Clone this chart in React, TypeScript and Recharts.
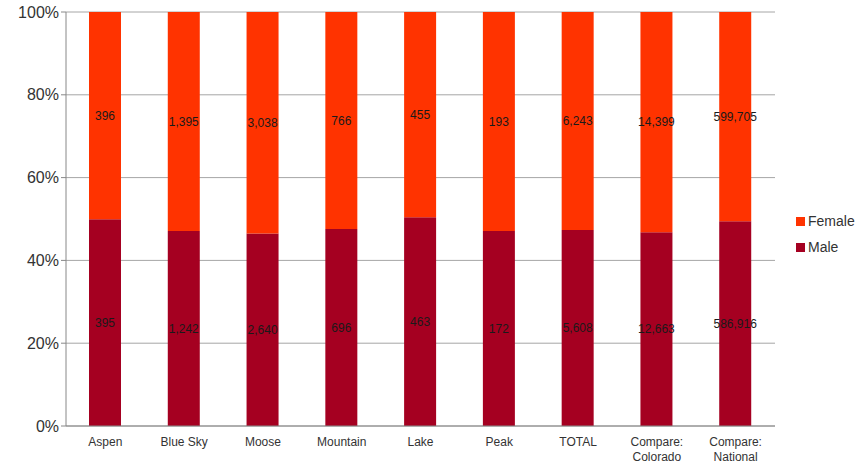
import React from "react";
import {
  BarChart,
  Bar,
  XAxis,
  YAxis,
  CartesianGrid,
  LabelList,
} from "recharts";

const categories = [
  "Aspen",
  "Blue Sky",
  "Moose",
  "Mountain",
  "Lake",
  "Peak",
  "TOTAL",
  "Compare: Colorado",
  "Compare: National",
];
const maleCounts = [395, 1242, 2640, 696, 463, 172, 5608, 12663, 586916];
const femaleCounts = [396, 1395, 3038, 766, 455, 193, 6243, 14399, 599705];
const yTicks = [0, 0.2, 0.4, 0.6, 0.8, 1];
const boundTicks = categories.map((_, i) => i).concat(categories.length);

const data = categories.map((name, i) => ({
  name,
  male: maleCounts[i],
  female: femaleCounts[i],
}));

const FONT = "'Liberation Sans Narrow', 'Arial Narrow', 'Liberation Sans', Arial, sans-serif";
const MALE = "#A50021";
const FEMALE = "#FF3300";

const fmt = (v: any) => Number(v).toLocaleString("en-US");

const CategoryTick = (props: any) => {
  const { x, y, payload } = props;
  const parts = String(payload.value).split(/(?<=:) /);
  return (
    <text x={x} y={y} textAnchor="middle" fill="#333" fontSize={12} fontFamily={FONT}>
      {parts.map((p, i) => (
        <tspan key={i} x={x} dy={i === 0 ? 12 : 15}>
          {p}
        </tspan>
      ))}
    </text>
  );
};

const legendItems = [
  { label: "Female", color: FEMALE },
  { label: "Male", color: MALE },
];

export default function App() {
  return (
    <div style={{ position: "absolute", left: 0, top: 0, width: 855, height: 468, background: "#fff" }}>
      <BarChart
        width={855}
        height={468}
        data={data}
        stackOffset="expand"
        barSize={32}
        margin={{ top: 12, right: 80, left: 6, bottom: 6 }}
      >
        <CartesianGrid vertical={false} stroke="#a6a6a6" />
        <XAxis
          xAxisId="bounds"
          type="number"
          domain={[0, categories.length]}
          ticks={boundTicks}
          axisLine={false}
          tickLine={{ stroke: "#888" }}
          tickSize={5}
          tickFormatter={() => ""}
          height={0}
        />
        <XAxis
          dataKey="name"
          axisLine={{ stroke: "#888" }}
          tickLine={false}
          tick={<CategoryTick />}
          interval={0}
          height={36}
        />
        <YAxis
          ticks={yTicks}
          domain={[0, 1]}
          tickFormatter={(v: number) => `${Math.round(v * 100)}%`}
          axisLine={{ stroke: "#888" }}
          tickLine={{ stroke: "#888" }}
          tickSize={5}
          width={60}
          tick={{ fill: "#333", fontSize: 16, fontFamily: FONT }}
        />
        <Bar dataKey="male" name="Male" stackId="a" fill={MALE} isAnimationActive={false}>
          <LabelList
            dataKey="male"
            position="center"
            formatter={fmt}
            fill="#1a1a1a"
            fontSize={12}
            fontFamily={FONT}
          />
        </Bar>
        <Bar dataKey="female" name="Female" stackId="a" fill={FEMALE} isAnimationActive={false}>
          <LabelList
            dataKey="female"
            position="center"
            formatter={fmt}
            fill="#1a1a1a"
            fontSize={12}
            fontFamily={FONT}
          />
        </Bar>
      </BarChart>
      <div
        style={{
          position: "absolute",
          left: 796,
          top: 208,
          fontFamily: FONT,
          fontSize: 14,
          color: "#333",
        }}
      >
        {legendItems.map((it) => (
          <div key={it.label} style={{ display: "flex", alignItems: "center", height: 26 }}>
            <span style={{ width: 9, height: 9, background: it.color, marginRight: 3 }} />
            <span>{it.label}</span>
          </div>
        ))}
      </div>
    </div>
  );
}
